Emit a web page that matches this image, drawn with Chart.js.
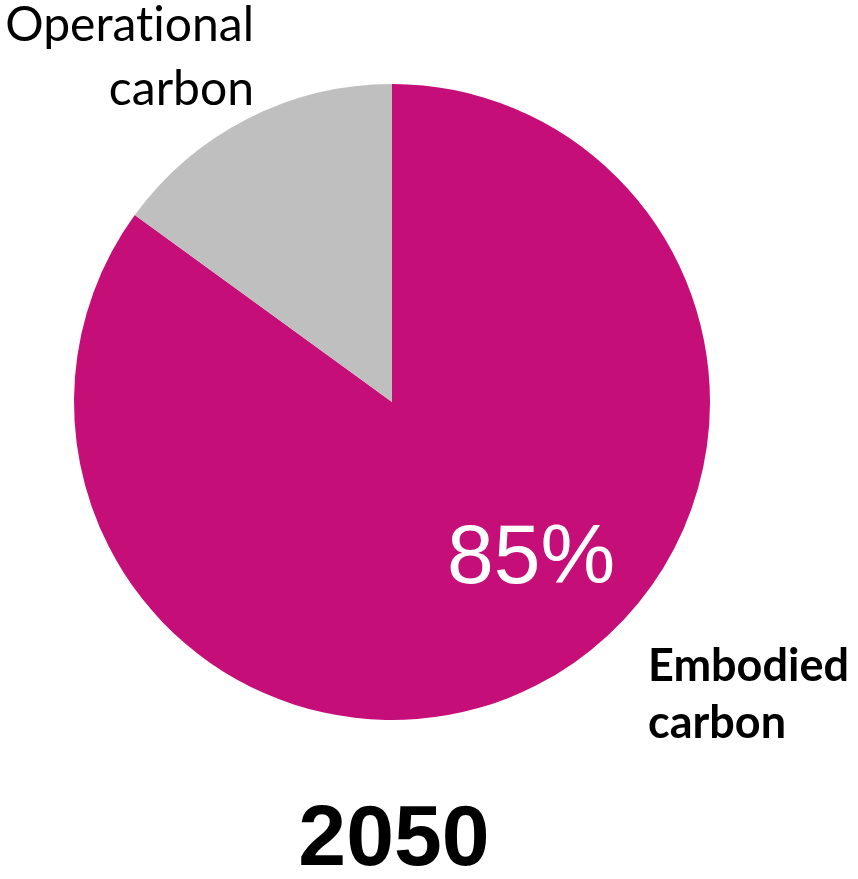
<!DOCTYPE html>
<html>
<head>
<meta charset="utf-8">
<script src="https://cdn.jsdelivr.net/npm/chart.js@4/dist/chart.umd.min.js"></script>
<style>
  html, body { margin: 0; padding: 0; background: #fff; }
  #wrap { width: 858px; height: 879px; }
</style>
</head>
<body>
<div id="wrap"><canvas id="chart"></canvas></div>
<script>
// data
const labels = ['Embodied carbon', 'Operational carbon'];
const shares = [85, 15];
const colors = ['#c50e78', '#bfbfbf'];
const yearLabel = '2050';

// draws the slice labels, the percentage and the year
const textPlugin = {
    id: 'textPlugin',
    afterDraw(chart) {
        const arc = chart.getDatasetMeta(0).data[0];
        const cx = arc.x, cy = arc.y, r = arc.outerRadius;
        const ctx = chart.ctx;
        ctx.save();
        ctx.textBaseline = 'alphabetic';

        // percentage inside the big slice
        ctx.fillStyle = '#ffffff';
        ctx.font = '84px "Liberation Sans", Arial, sans-serif';
        ctx.textAlign = 'left';
        ctx.fillText(shares[0] + '%', cx + 55, cy + 181);

        // operational label, top left (ZWNJ keeps "ti" from turning into a ligature)
        ctx.fillStyle = '#000000';
        ctx.font = '48px Lato, "Open Sans", sans-serif';
        ctx.textAlign = 'right';
        ctx.fillText('Operat\u200Cional', cx - 138, cy - 361);
        ctx.fillText('carbon', cx - 138, cy - 297);

        // embodied label, bottom right
        ctx.font = 'bold 45px Lato, "Open Sans", sans-serif';
        ctx.textAlign = 'left';
        ctx.fillText('Embodied', cx + 256, cy + 279);
        ctx.fillText('carbon', cx + 256, cy + 336);

        // year
        ctx.font = 'bold 86px "Liberation Sans Narrow", "Liberation Sans", Arial, sans-serif';
        ctx.textAlign = 'center';
        ctx.fillText(yearLabel, cx + 2, cy + r + 145);
        ctx.restore();
    }
};

new Chart(document.getElementById('chart'), {
    type: 'pie',
    data: {
        labels: labels,
        datasets: [{
            data: shares,
            backgroundColor: colors,
            borderWidth: 0
        }]
    },
    options: {
        responsive: true,
        maintainAspectRatio: false,
        animation: false,
        layout: {
            padding: { left: 74, right: 148, top: 84, bottom: 159 }
        },
        plugins: {
            legend: { display: false },
            tooltip: { enabled: false }
        }
    },
    plugins: [textPlugin]
});
</script>
</body>
</html>
